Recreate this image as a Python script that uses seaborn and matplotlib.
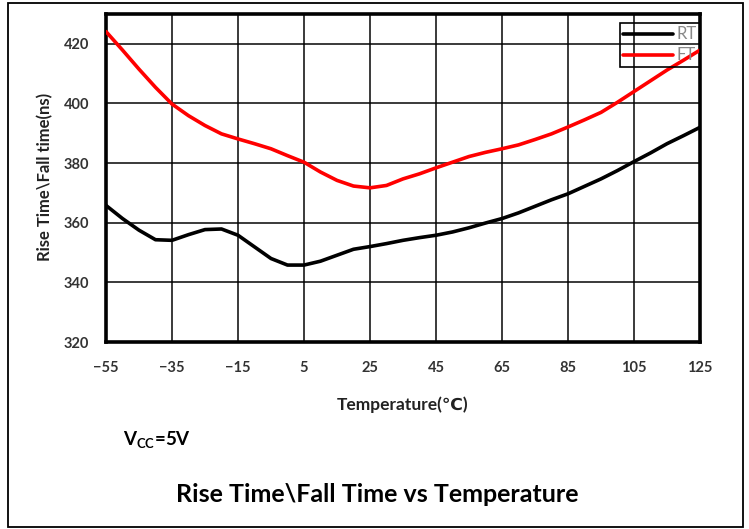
import matplotlib
matplotlib.use("Agg")
import matplotlib.pyplot as plt
import seaborn as sns
import pandas as pd
from matplotlib.patches import Rectangle
from matplotlib.lines import Line2D

# ---- data ----
temperature = [-55, -50, -45, -40, -35, -30, -25, -20, -15, -10, -5, 0, 5, 10, 15, 20,
               25, 30, 35, 40, 45, 50, 55, 60, 65, 70, 75, 80, 85, 90, 95, 100, 105,
               110, 115, 120, 125]
rt_values = [365.8, 361.4, 357.5, 354.3, 354.1, 356.0, 357.7, 357.9, 355.8, 351.9,
             348.0, 345.8, 345.8, 347.1, 349.1, 351.1, 352.0, 353.0, 354.1, 355.0,
             355.8, 356.9, 358.3, 359.9, 361.4, 363.3, 365.5, 367.7, 369.7, 372.2,
             374.7, 377.5, 380.5, 383.4, 386.5, 389.2, 392.0]
ft_values = [424.1, 417.9, 411.5, 405.4, 399.8, 395.9, 392.6, 389.8, 388.1, 386.5,
             384.8, 382.5, 380.3, 377.0, 374.2, 372.3, 371.7, 372.5, 374.7, 376.4,
             378.4, 380.3, 382.2, 383.6, 384.8, 386.1, 387.9, 389.8, 392.1, 394.5,
             397.0, 400.4, 404.0, 407.6, 411.2, 414.5, 417.9]
series_names = ["RT", "FT"]
series_colors = ["black", "red"]
x_ticks = [-55, -35, -15, 5, 25, 45, 65, 85, 105, 125]
y_ticks = [320, 340, 360, 380, 400, 420]

df = pd.DataFrame({
    "Temperature": temperature * 2,
    "Time": rt_values + ft_values,
    "Series": [series_names[0]] * len(temperature) + [series_names[1]] * len(temperature),
})

sns.set_style("white")
plt.rcParams["font.family"] = ["Lato", "DejaVu Sans"]
plt.rcParams["mathtext.default"] = "regular"

W, H = 749, 529
fig = plt.figure(figsize=(W / 100, H / 100), dpi=100)
ax = fig.add_axes([106 / W, 1 - 342 / H, (700 - 106) / W, (342 - 14) / H])

sns.lineplot(data=df, x="Temperature", y="Time", hue="Series",
             palette=dict(zip(series_names, series_colors)), ax=ax,
             linewidth=2.6, legend=False, zorder=3)

ax.set_xlim(-55, 125)
ax.set_ylim(320, 430)
ax.set_xticks(x_ticks)
ax.set_yticks(y_ticks)
ax.grid(True, color="black", linewidth=1.2, alpha=0.9)
ax.set_axisbelow(True)
for s in ax.spines.values():
    s.set_visible(True)
    s.set_linewidth(2.6)
    s.set_color("black")
ax.tick_params(axis="both", length=0, labelsize=10.5, colors="#333333")
ax.tick_params(axis="y", pad=12)
ax.tick_params(axis="x", pad=14)
for lab in ax.get_xticklabels() + ax.get_yticklabels():
    lab.set_fontweight("bold")

ax.set_xlabel("Temperature(℃)", fontsize=12.5, fontweight="bold", color="#222222")
ax.xaxis.set_label_coords((403 - 106) / 594, (342 - 405) / 328)
ax.xaxis.label.set_va("center")
ax.set_ylabel("Rise Time\\Fall time(ns)", fontsize=12, fontweight="bold", color="#222222")
ax.yaxis.set_label_coords((45 - 106) / 594, (342 - 177) / 328)
ax.yaxis.label.set_va("center")

handles = [Line2D([0], [0], color=c, lw=2.6) for c in series_colors]
leg = ax.legend(handles, series_names, loc="upper right", bbox_to_anchor=(1.0, (342 - 23) / 328),
                frameon=True, fancybox=False, facecolor="none", edgecolor="black",
                fontsize=12, handlelength=3.0, handletextpad=0.2, borderpad=0.2,
                labelspacing=0.3, borderaxespad=0)
leg.get_frame().set_linewidth(1.2)
leg.get_frame().set_alpha(None)
for t in leg.get_texts():
    t.set_color("#888888")

fig.text(123 / W, 1 - 440 / H, r"V$_{CC}$=5V", fontsize=13.5, fontweight="bold",
         ha="left", va="center", color="black")
fig.text(377 / W, 1 - 495 / H, "Rise Time\\Fall Time vs Temperature", fontsize=18,
         fontweight="bold", ha="center", va="center", color="black")

fig.patches.append(Rectangle((8 / W, 1 - 527 / H), (743 - 8) / W, (527 - 3) / H,
                             transform=fig.transFigure, fill=False, edgecolor="black",
                             linewidth=1.3))

fig.savefig("out.png", dpi=100)
